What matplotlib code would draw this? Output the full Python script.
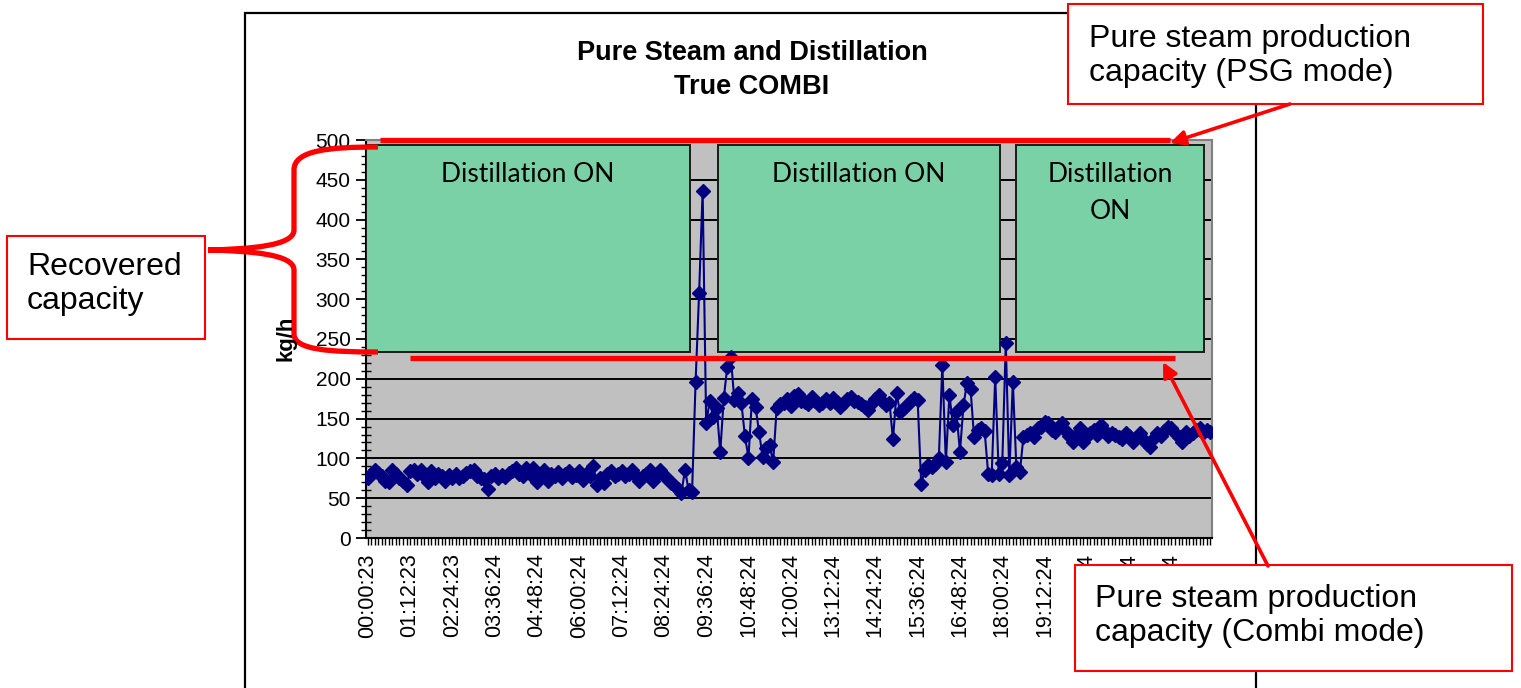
import numpy as np
import matplotlib.pyplot as plt
from matplotlib.patches import Rectangle, FancyArrowPatch, PathPatch
from matplotlib.path import Path

# steam flow (kg/h), one reading every 6 minutes
flow = [
    75, 80, 86, 82, 78, 72, 70, 86, 80, 76, 72, 66, 84, 86, 80, 86, 78, 70, 84, 76,
    80, 78, 72, 79, 76, 80, 75, 78, 82, 84, 86, 78, 76, 74, 62, 78, 80, 76, 79, 77,
    82, 84, 88, 80, 78, 88, 80, 88, 70, 80, 86, 72, 80, 78, 83, 76, 80, 84, 77, 79,
    84, 73, 80, 78, 90, 67, 75, 69, 80, 84, 78, 80, 84, 78, 80, 86, 78, 71, 78, 80,
    85, 72, 80, 86, 78, 75, 69, 66, 62, 57, 86, 60, 58, 196, 308, 436, 144, 172, 152, 163,
    108, 176, 215, 227, 173, 182, 169, 128, 101, 175, 165, 133, 102, 113, 117, 95, 163, 168, 170, 174,
    166, 178, 181, 172, 171, 168, 177, 172, 167, 170, 174, 169, 176, 171, 165, 170, 174, 177, 172, 171,
    168, 165, 161, 170, 175, 180, 172, 167, 170, 124, 182, 158, 163, 167, 172, 176, 173, 68, 85, 92,
    89, 93, 100, 217, 95, 180, 142, 158, 108, 167, 195, 187, 127, 136, 138, 134, 81, 79, 202, 81,
    94, 245, 79, 196, 89, 83, 127, 130, 132, 127, 138, 140, 146, 144, 136, 133, 140, 144, 134, 128,
    121, 130, 138, 121, 128, 132, 136, 130, 142, 136, 128, 132, 130, 127, 125, 132, 128, 121, 126, 132,
    124, 118, 114, 126, 132, 128, 135, 139, 138, 132, 127, 121, 133, 128, 132, 136, 138, 132, 136, 133,
]

time_labels = ['00:00:23', '01:12:23', '02:24:23', '03:36:24', '04:48:24',
               '06:00:24', '07:12:24', '08:24:24', '09:36:24', '10:48:24',
               '12:00:24', '13:12:24', '14:24:24', '15:36:24', '16:48:24',
               '18:00:24', '19:12:24', '20:24:24', '21:36:24', '22:48:24']
label_every = 12

# distillation ON periods (start, end index) and the band they are drawn in
distill_periods = [(-0.5, 91.4), (99.4, 179.4), (183.9, 237.2)]
distill_band = (234, 494)
distill_text = ['Distillation ON', 'Distillation ON', 'Distillation\nON']

psg_capacity = 500
combi_capacity = 226

W, H = 1521, 688


def P(x, y):
    # pixel position -> figure fraction
    return (x / W, 1 - y / H)


fig = plt.figure(figsize=(W / 100, H / 100), dpi=100)
fig.patch.set_facecolor('white')

sans = ['Liberation Sans', 'DejaVu Sans']

# outer chart frame
fig.patches.append(Rectangle(P(245, 700), 1011 / W, 687 / H, transform=fig.transFigure,
                             fill=False, edgecolor='black', lw=1.6))

ax = fig.add_axes([366 / W, 1 - 538 / H, 846 / W, 398 / H])
ax.set_facecolor('#C0C0C0')

n = len(flow)
x = np.arange(n)

ax.set_xlim(-0.5, n - 0.5)
ax.set_ylim(0, 500)
ax.set_yticks(np.arange(0, 501, 50))
ax.set_yticks(np.arange(0, 501, 10), minor=True)
ax.yaxis.grid(True, color='black', lw=1.4)
ax.set_axisbelow(True)

ax.set_xticks(x, minor=True)
ax.set_xticks(x[::label_every][:len(time_labels)])
ax.set_xticklabels(time_labels, rotation=90, family=sans, fontsize=15.5)
for lab in ax.get_yticklabels():
    lab.set_family(sans)
    lab.set_fontsize(15)

ax.tick_params(axis='y', which='major', direction='out', length=7, width=1.3, pad=4)
ax.tick_params(axis='y', which='minor', direction='inout', length=7, width=1.0)
ax.tick_params(axis='x', which='both', direction='out', length=5, width=1.0, pad=6)

for s in ['top', 'right']:
    ax.spines[s].set_color('#808080')
    ax.spines[s].set_linewidth(1.5)
for s in ['left', 'bottom']:
    ax.spines[s].set_color('black')
    ax.spines[s].set_linewidth(1.5)

# distillation boxes
for (a, b), txt in zip(distill_periods, distill_text):
    ax.add_patch(Rectangle((a, distill_band[0]), b - a, distill_band[1] - distill_band[0],
                           facecolor='#7AD1A6', edgecolor='#1a1a1a', lw=1.4, zorder=3))
    ax.text((a + b) / 2, 472, txt, ha='center', va='top', fontsize=19,
            family=['Lato', 'DejaVu Sans'], linespacing=1.58, zorder=4)

ax.plot(x, flow, color='#000080', lw=1.5, marker='D', markersize=7.5,
        markerfacecolor='#000080', markeredgecolor='#000080', zorder=5)

# capacity lines
ax.plot([3.5, 227.6], [psg_capacity, psg_capacity], color='red', lw=3.8,
        solid_capstyle='butt', clip_on=False, zorder=6)
ax.plot([12, 229], [combi_capacity, combi_capacity], color='red', lw=3.8,
        solid_capstyle='butt', clip_on=False, zorder=6)

# titles
fig.text(*P(752, 70), 'Pure Steam and Distillation\nTrue COMBI', ha='center', va='center',
         fontsize=19.5, fontweight='bold', family=sans, linespacing=1.42)
fig.text(*P(286, 338), 'kg/h', rotation=90, ha='center', va='center',
         fontsize=16, fontweight='bold', family=sans)

# brace for recovered capacity
brace = [P(378, 147), P(330, 147), P(294, 150), P(294, 170),
         P(294, 230),
         P(294, 246), P(250, 249), P(208, 250),
         P(250, 251), P(294, 254), P(294, 270),
         P(294, 334),
         P(294, 350), P(330, 352), P(378, 352)]
codes = [Path.MOVETO, Path.CURVE4, Path.CURVE4, Path.CURVE4,
         Path.LINETO,
         Path.CURVE4, Path.CURVE4, Path.CURVE4,
         Path.CURVE4, Path.CURVE4, Path.CURVE4,
         Path.LINETO,
         Path.CURVE4, Path.CURVE4, Path.CURVE4]
fig.patches.append(PathPatch(Path(brace, codes), transform=fig.transFigure,
                             fill=False, edgecolor='red', lw=3.8))


def callout(x0, y0, x1, y1, text, tx, ty):
    fig.patches.append(Rectangle(P(x0, y1), (x1 - x0) / W, (y1 - y0) / H,
                                 transform=fig.transFigure, facecolor='white',
                                 edgecolor='red', lw=1.5, zorder=10))
    fig.text(*P(tx, ty), text, ha='left', va='center', fontsize=23,
             family=sans, linespacing=1.2, zorder=11)


callout(7, 236, 205, 339, 'Recovered\ncapacity', 27, 284)
callout(1068, 4, 1483, 104, 'Pure steam production\ncapacity (PSG mode)', 1089, 56)
callout(1075, 565, 1512, 671, 'Pure steam production\ncapacity (Combi mode)', 1095, 616)

for (xa, ya), (xb, yb) in [((1290, 104), (1170, 143)), ((1268, 566), (1163, 362))]:
    fig.patches.append(FancyArrowPatch(P(xa, ya), P(xb, yb), transform=fig.transFigure,
                                       arrowstyle='-|>', mutation_scale=22, color='red',
                                       lw=2.6, shrinkA=0, shrinkB=0, zorder=12))

fig.savefig('out.png', dpi=100)
